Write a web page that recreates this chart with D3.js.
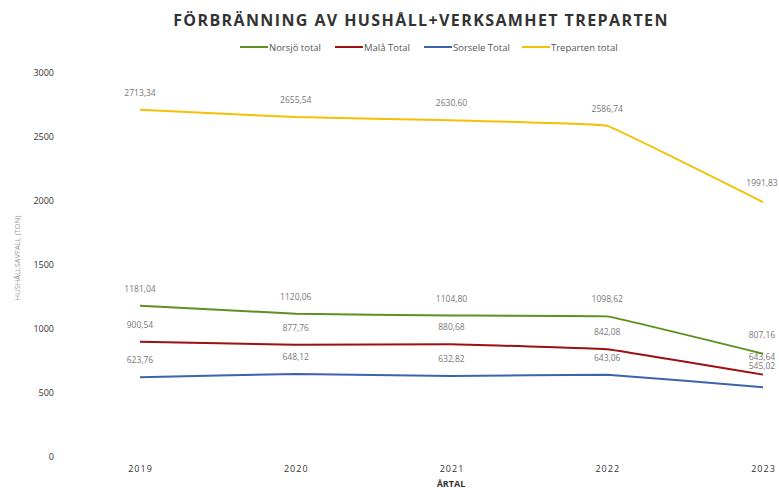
<!DOCTYPE html>
<html>
<head>
<meta charset="utf-8">
<script src="https://cdn.jsdelivr.net/npm/d3@7"></script>
<style>
  body { margin: 0; background: #fff; }
  svg { font-family: "Open Sans", "Liberation Sans", sans-serif; }
</style>
</head>
<body>
<div id="chart"></div>
<script>
var years = ["2019", "2020", "2021", "2022", "2023"]
var norsjo = [1181.04, 1120.06, 1104.8, 1098.62, 807.16]
var mala = [900.54, 877.76, 880.68, 842.08, 643.64]
var sorsele = [623.76, 648.12, 632.82, 643.06, 545.02]
var treparten = [2713.34, 2655.54, 2630.6, 2586.74, 1991.83]
var seriesNames = ["Norsjö total", "Malå Total", "Sorsele Total", "Treparten total"]
var yTicks = [0, 500, 1000, 1500, 2000, 2500, 3000]

var colors = ["#5f8f1f", "#9b1010", "#3c63ad", "#f5c000"]
var allSeries = [norsjo, mala, sorsele, treparten]

var w = 779
var h = 490

var svg = d3.select("#chart")
  .append("svg")
  .attr("width", w)
  .attr("height", h)

var x = d3.scalePoint()
  .domain(years)
  .range([140, 763])

var y = d3.scaleLinear()
  .domain([0, 3000])
  .range([457, 73])

// title
svg.append("text")
  .attr("x", 421)
  .attr("y", 26)
  .attr("text-anchor", "middle")
  .attr("font-size", 16)
  .attr("font-weight", "bold")
  .attr("letter-spacing", 1.4)
  .attr("fill", "#333")
  .text("FÖRBRÄNNING AV HUSHÅLL+VERKSAMHET TREPARTEN")

// legend
var legendX = [240, 335, 424, 522]
var legend = svg.selectAll(".legend")
  .data(seriesNames)
  .enter()
  .append("g")
  .attr("class", "legend")
  .attr("transform", function(d, i){ return "translate(" + legendX[i] + ",47)" })

legend.append("line")
  .attr("x1", 0).attr("x2", 28)
  .attr("y1", 0).attr("y2", 0)
  .attr("stroke", function(d, i){ return colors[i] })
  .attr("stroke-width", 2)

legend.append("text")
  .attr("x", 29)
  .attr("y", 3.5)
  .attr("font-size", 9.5)
  .attr("fill", "#555")
  .text(function(d){ return d })

// y axis (labels only)
var yAxis = d3.axisLeft(y)
  .tickValues(yTicks)
  .tickSize(0)
  .tickPadding(0)
  .tickFormat(d3.format("d"))

var gy = svg.append("g")
  .attr("transform", "translate(54,0)")
  .call(yAxis)
gy.select(".domain").remove()
gy.selectAll("text")
  .attr("font-size", 9)
  .attr("fill", "#333")
  .attr("font-family", "Open Sans, sans-serif")

svg.append("text")
  .attr("transform", "translate(20,258) rotate(-90)")
  .attr("text-anchor", "middle")
  .attr("font-size", 7.5)
  .attr("fill", "#999")
  .text("HUSHÅLLSAVFALL (TON)")

// x axis (labels only)
var xAxis = d3.axisBottom(x)
  .tickSize(0)
  .tickPadding(0)

var gx = svg.append("g")
  .attr("transform", "translate(0,466)")
  .call(xAxis)
gx.select(".domain").remove()
gx.selectAll("text")
  .attr("font-size", 9)
  .attr("fill", "#333")
  .attr("letter-spacing", 1)
  .attr("font-family", "Open Sans, sans-serif")

svg.append("text")
  .attr("x", 451)
  .attr("y", 487)
  .attr("text-anchor", "middle")
  .attr("font-size", 9)
  .attr("font-weight", "bold")
  .attr("fill", "#333")
  .text("ÅRTAL")

// lines
var line = d3.line()
  .x(function(d, i){ return x(years[i]) })
  .y(function(d){ return y(d) })
  .curve(d3.curveCardinal.tension(0.85))

svg.selectAll(".series")
  .data(allSeries)
  .enter()
  .append("path")
  .attr("class", "series")
  .attr("d", function(d){ return line(d) })
  .attr("fill", "none")
  .attr("stroke", function(d, i){ return colors[i] })
  .attr("stroke-width", 2)

// data labels
var fmt = function(v){ return d3.format(".2f")(v).replace(".", ",") }
var labelOffsetY = [[-14, -14, -14, -14, -16], [-14, -14, -14, -14, -15], [-14, -14, -14, -14, -18], [-14, -14, -14, -14, -16]]
var labelOffsetX = [[0, 0, 0, 0, -1], [0, 0, 0, 0, -1], [0, 0, 0, 0, -1], [0, 0, 0, 0, -1]]

allSeries.forEach(function(s, si){
  svg.selectAll(".lbl" + si)
    .data(s)
    .enter()
    .append("text")
    .attr("class", "lbl" + si)
    .attr("x", function(d, i){ return x(years[i]) + labelOffsetX[si][i] })
    .attr("y", function(d, i){ return y(d) + labelOffsetY[si][i] })
    .attr("text-anchor", "middle")
    .attr("font-size", 8.5)
    .attr("fill", "#777")
    .text(function(d){ return fmt(d) })
})
</script>
</body>
</html>
